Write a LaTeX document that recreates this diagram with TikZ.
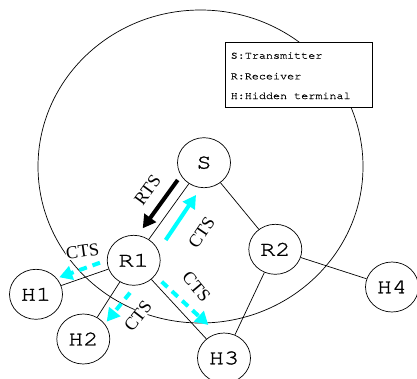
\documentclass[tikz,border=0pt]{standalone}
\usepackage{fontspec}
\setmainfont{Liberation Serif}
\newfontfamily\nodefont[FakeStretch=1.2,FakeBold=1.2]{texgyrecursor-regular.otf}
\newfontfamily\legfont[FakeStretch=1.12,FakeBold=0.6]{texgyrecursor-regular.otf}
\usetikzlibrary{arrows.meta,shapes.geometric}
\definecolor{aqua}{RGB}{0,255,255}
\begin{document}
\begin{tikzpicture}[x=1pt,y=-1pt,
 host/.style={draw, ellipse, fill=white, minimum width=53pt, minimum height=50pt, inner sep=0pt, line width=0.7pt, font=\nodefont\fontsize{21}{21}\selectfont},
 link/.style={line width=0.7pt},
 msg/.style={line width=4pt, -{Triangle[length=13pt,width=14pt]}},
 cts/.style={msg, aqua},
 ctsd/.style={cts, dash pattern=on 8pt off 6pt},
 lbl/.style={font=\fontsize{18}{18}\selectfont, fill=white, inner sep=0.5pt},
 legtext/.style={anchor=base west, inner sep=0pt, font=\legfont\fontsize{10.5}{10.5}\selectfont}
]
\useasboundingbox (0,0) rectangle (417,378);
% range circle
\draw[line width=0.7pt] (200.5,166.5) ellipse [x radius=162.5, y radius=156.5];
% legend
\node[draw, fill=white, line width=0.7pt, minimum width=147.3pt, minimum height=65pt, inner sep=0pt] (legend) at (298.7,74.5) {};
\node[legtext] (l1) at (230.5,58.7) {S:Transmitter};
\node[legtext] (l2) at (230.5,79.3) {R:Receiver};
\node[legtext] (l3) at (230.5,99) {H:Hidden terminal};
% nodes
\node[host] (S)  at (204,162.7) {S};
\node[host] (R1) at (133.7,260.3) {R1};
\node[host] (R2) at (275.3,249.3) {R2};
\node[host] (H1) at (36,294.3) {H1};
\node[host] (H2) at (83.3,339) {H2};
\node[host] (H3) at (224,358) {H3};
\node[host] (H4) at (392,287) {H4};
% links
\draw[link] (S) -- (R1);
\draw[link] (S) -- (R2);
\draw[link] (R1) -- (H1);
\draw[link] (R1) -- (H2);
\draw[link] (R1) -- (H3);
\draw[link] (R2) -- (H3);
\draw[link] (R2) -- (H4);
% message arrows
\coordinate (rtsA) at (177.7,180);
\coordinate (rtsB) at (142.7,228.3);
\coordinate (ctsA) at (165.7,240);
\coordinate (ctsB) at (196,195);
\coordinate (h1A) at (100,262.7);
\coordinate (h1B) at (59.3,277.3);
\coordinate (h2A) at (130,292.7);
\coordinate (h2B) at (106.7,321.7);
\coordinate (h3A) at (161.7,281.7);
\coordinate (h3B) at (208.3,325);
\draw[msg] (rtsA) -- (rtsB);
\draw[cts] (ctsA) -- (ctsB);
\draw[ctsd] (h1A) -- (h1B);
\draw[ctsd] (h2A) -- (h2B);
\draw[ctsd] (h3A) -- (h3B);
% labels
\node[lbl, rotate=54] (tRTS) at (147.5,190) {RTS};
\node[lbl, rotate=56] (tC0) at (201.5,232.5) {CTS};
\node[lbl, rotate=8] (tC1) at (82.5,251.5) {CTS};
\node[lbl, rotate=52] (tC2) at (138,316) {CTS};
\node[lbl, rotate=-50] (tC3) at (196.5,286.7) {CTS};
\end{tikzpicture}
\end{document}
